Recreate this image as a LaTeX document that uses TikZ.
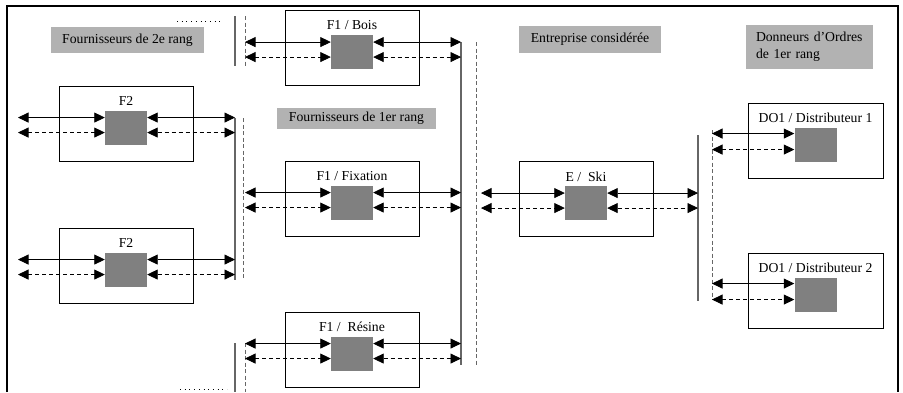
\documentclass[tikz,border=0pt]{standalone}
\usepackage{fontspec}
\setmainfont{Liberation Serif}
\usetikzlibrary{arrows.meta,calc,positioning}

\tikzset{
    acteur/.style={draw, line width=0.9pt, minimum width=134pt, minimum height=75pt, inner sep=0pt},
    noyau/.style={fill=black!50, minimum width=42pt, minimum height=34pt, inner sep=0pt},
    titre/.style={inner sep=0pt},
    etiquette/.style={fill=black!30, inner xsep=10pt},
    flux/.style={line width=0.8pt, {Triangle[length=10.5pt,width=10pt]}-{Triangle[length=10.5pt,width=10pt]}},
    fluxp/.style={flux, dash pattern=on 4pt off 3pt},
    bus/.style={black!60, line width=1.2pt},
    busp/.style={black!60, line width=0.9pt, dash pattern=on 4pt off 2.5pt},
    points/.style={line width=1pt, dash pattern=on 0.9pt off 3.8pt}
}

\begin{document}
\begin{tikzpicture}[x=1pt, y=-1pt, font=\fontsize{13.7}{17}\selectfont]
    \useasboundingbox (0,0) rectangle (903,392);
    % cadre ouvert en bas
    \draw[line width=1.2pt] (7,392) -- (7,6) -- (898,6) -- (898,392);

    % Etiquettes des rangs
    \node[etiquette, minimum width=153pt, minimum height=26pt] (rang2) at (127.5,40) {Fournisseurs de 2e rang};
    \node[etiquette, minimum width=159pt, minimum height=21pt] (rang1) at (356.5,118.5) {Fournisseurs de 1er rang};
    \node[etiquette, minimum width=142pt, minimum height=27pt] (entreprise) at (590,39.5) {Entreprise considérée};
    \node[etiquette, minimum width=127pt, minimum height=44pt, align=left, text width=107pt] (donneurs) at (809.5,47) {Donneurs d’Ordres\\de 1er rang};

    % Acteurs
    \node[acteur] (bois) at (352,48) {};
    \node[acteur] (fix) at (352,198.5) {};
    \node[acteur] (res) at (352,349.5) {};
    \node[acteur] (f2a) at (126,123.5) {};
    \node[acteur] (f2b) at (126,265.5) {};
    \node[acteur] (ski) at (586,199) {};
    \node[acteur, minimum width=135pt] (do1) at (815.5,140.5) {};
    \node[acteur, minimum width=135pt] (do2) at (815.5,290.5) {};

    % Titres
    \node[titre, below=10.5pt of bois.north] (tBois) {F1 / Bois};
    \node[titre, below=10.5pt of fix.north] (tFix) {F1 / Fixation};
    \node[titre, below=10.5pt of res.north] (tRes) {F1 /\ \ Résine};
    \node[titre, below=10.5pt of f2a.north] (tF2a) {F2};
    \node[titre, below=10.5pt of f2b.north] (tF2b) {F2};
    \node[titre, below=10.5pt of ski.north] (tSki) {E /\ \ Ski};
    \node[titre, below=10.5pt of do1.north] (tDo1) {DO1 / Distributeur 1};
    \node[titre, below=10.5pt of do2.north] (tDo2) {DO1 / Distributeur 2};

    % Noyaux
    \node[noyau, below=25pt of bois.north] (cBois) {};
    \node[noyau, below=25pt of fix.north] (cFix) {};
    \node[noyau, below=25pt of res.north] (cRes) {};
    \node[noyau, below=25pt of f2a.north] (cF2a) {};
    \node[noyau, below=25pt of f2b.north] (cF2b) {};
    \node[noyau, below=25pt of ski.north] (cSki) {};
    \node[noyau, below=25pt of do1.north] (cDo1) {};
    \node[noyau, below=25pt of do2.north] (cDo2) {};

    % Bus verticaux
    \coordinate (sG) at (235,0);
    \coordinate (pG) at (245,0);
    \coordinate (sM) at (461,0);
    \coordinate (pM) at (476,0);
    \coordinate (sD) at (698,0);
    \coordinate (pD) at (712,0);
    \coordinate (bordG) at (18,0);
    \coordinate (bordE) at (481,0);

    \draw[bus] (235,16) -- (235,66);
    \draw[busp] (245,16) -- (245,66);
    \draw[points] (177,21) -- (223,21);
    \draw[bus] (235,118) -- (235,280);
    \draw[busp] (243,118) -- (243,280);
    \draw[bus] (235,343) -- (235,392);
    \draw[busp] (245,343) -- (245,392);
    \draw[points] (180,389) -- (227,389);
    \draw[bus] (461,42) -- (461,365);
    \draw[busp] (476,42) -- (476,365);
    \draw[bus] (698,135) -- (698,301);
    \draw[busp] (712,130) -- (712,300);

    % Flux
    \foreach \c/\g/\d in {cBois/pG/sM, cFix/pG/sM, cRes/pG/sM, cF2a/bordG/sG, cF2b/bordG/sG, cSki/bordE/sD}{
        \coordinate (h) at ($(\c.north)+(0,7)$);
        \coordinate (b) at ($(\c.north)+(0,22)$);
        \draw[flux] (h -| \g) -- (h -| \c.west);
        \draw[flux] (h -| \c.east) -- (h -| \d);
        \draw[fluxp] (b -| \g) -- (b -| \c.west);
        \draw[fluxp] (b -| \c.east) -- (b -| \d);
    }
    \foreach \c in {cDo1, cDo2}{
        \coordinate (h) at ($(\c.north)+(0,6)$);
        \coordinate (b) at ($(\c.north)+(0,22)$);
        \draw[flux] (h -| pD) -- (h -| \c.west);
        \draw[fluxp] (b -| pD) -- (b -| \c.west);
    }
\end{tikzpicture}
\end{document}
